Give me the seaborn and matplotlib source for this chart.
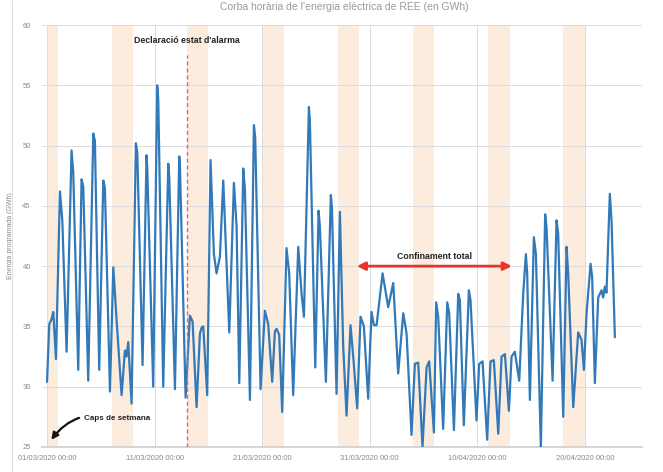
import pandas as pd
import matplotlib.pyplot as plt
import seaborn as sns

# dies des de l'01/03/2020 00:00 i energia programada (GWh), llegits del gràfic
days = [0.00, 0.21, 0.42, 0.58, 0.83, 1.20, 1.42, 1.82, 2.28, 2.44,
        2.90, 3.21, 3.37, 3.83, 4.30, 4.45, 4.85, 5.23, 5.38, 5.85,
        6.16, 6.47, 6.93, 7.24, 7.39, 7.55, 7.86, 8.26, 8.39, 8.88,
        9.25, 9.32, 9.87, 10.24, 10.34, 10.80, 11.27, 11.36, 11.89, 12.29,
        12.35, 12.88, 13.28, 13.53, 13.90, 14.21, 14.37, 14.52, 14.89, 15.20,
        15.51, 15.76, 16.07, 16.38, 16.94, 17.37, 17.62, 17.87, 18.24, 18.39,
        18.86, 19.23, 19.35, 19.85, 20.25, 20.56, 20.93, 21.18, 21.34, 21.58,
        21.86, 22.26, 22.51, 22.88, 23.35, 23.66, 23.88, 24.34, 24.43, 24.93,
        25.24, 25.36, 25.92, 26.38, 26.48, 26.91, 27.22, 27.53, 27.84, 28.21,
        28.46, 28.83, 29.14, 29.45, 29.85, 30.16, 30.38, 30.63, 31.19, 31.71,
        32.18, 32.64, 33.11, 33.42, 33.88, 34.19, 34.50, 34.90, 35.28, 35.52,
        35.96, 36.17, 36.36, 36.82, 37.20, 37.38, 37.82, 38.22, 38.37, 38.74,
        39.21, 39.36, 39.92, 40.17, 40.48, 40.91, 41.22, 41.53, 41.94, 42.25,
        42.56, 42.93, 43.18, 43.48, 43.89, 44.26, 44.51, 44.63, 44.88, 45.25,
        45.44, 45.90, 46.30, 46.43, 46.99, 47.36, 47.51, 47.98, 48.29, 48.44,
        48.91, 49.37, 49.68, 49.90, 50.15, 50.52, 50.67, 50.92, 51.23, 51.54,
        51.69, 51.85, 52.00, 52.31, 52.47, 52.78]
energy = [30.4, 35.2, 35.6, 36.2, 32.3, 46.2, 43.8, 32.9, 49.6, 47.7,
          31.4, 47.2, 46.6, 30.5, 51.0, 50.4, 31.4, 47.1, 46.5, 29.6,
          39.9, 35.5, 29.3, 33.0, 32.5, 33.7, 28.6, 50.2, 49.4, 31.8,
          49.2, 48.0, 30.0, 55.0, 53.8, 30.0, 48.5, 47.4, 29.8, 49.1,
          48.5, 29.1, 35.9, 35.4, 28.3, 34.4, 34.9, 35.0, 29.3, 48.8,
          41.0, 39.4, 40.8, 47.1, 34.5, 46.9, 43.3, 30.3, 48.1, 46.4,
          28.9, 51.7, 50.7, 29.8, 36.3, 35.2, 30.4, 34.6, 34.8, 34.3,
          27.9, 41.5, 39.4, 29.3, 41.6, 37.7, 35.8, 53.2, 52.1, 31.6,
          44.6, 43.3, 30.4, 45.9, 44.9, 29.4, 44.5, 33.3, 27.6, 35.1,
          32.5, 28.2, 35.8, 35.0, 29.0, 36.2, 35.1, 35.1, 39.4, 36.6,
          38.6, 31.1, 36.1, 34.4, 26.0, 31.9, 32.0, 25.0, 31.6, 32.1,
          26.2, 37.0, 35.8, 26.5, 37.0, 36.1, 26.4, 37.7, 37.2, 26.8,
          38.0, 37.2, 27.2, 31.9, 32.1, 25.6, 32.1, 32.2, 26.1, 32.5,
          32.7, 28.0, 32.5, 32.9, 30.5, 37.7, 41.0, 39.4, 28.9, 42.4,
          41.0, 25.0, 44.3, 43.2, 30.5, 43.8, 42.7, 27.5, 41.6, 39.4,
          28.3, 34.5, 33.9, 31.4, 36.1, 40.2, 39.1, 30.3, 37.4, 38.0,
          37.4, 38.3, 37.8, 46.0, 43.8, 34.1]

# caps de setmana (dia d'inici i durada en dies)
weekend_start = [0, 6, 13, 20, 27, 34, 41, 48]
weekend_length = [1, 2, 2, 2, 2, 2, 2, 2]

tick_days = [0, 10, 20, 30, 40, 50]
tick_labels = ['01/03/2020 00:00', '11/03/2020 00:00', '21/03/2020 00:00',
               '31/03/2020 00:00', '10/04/2020 00:00', '20/04/2020 00:00']
y_ticks = [25, 30, 35, 40, 45, 50, 55, 60]

alarm_day = 13
lockdown_start, lockdown_end = 28.8, 43.2

sns.set_theme(style='white')
plt.rcParams['font.family'] = ['Liberation Sans Narrow', 'Liberation Sans', 'DejaVu Sans']

df = pd.DataFrame({'dia': days, 'energia': energy})

fig = plt.figure(figsize=(6.63, 4.72), dpi=100)
ax = fig.add_axes([0.0633, 0.053, 0.905, 0.894])

# bandes dels caps de setmana
for start, length in zip(weekend_start, weekend_length):
    ax.axvspan(start, start + length, color='#fce6d4', alpha=0.75, lw=0, zorder=0)

sns.lineplot(data=df, x='dia', y='energia', ax=ax, color='#3179b8', lw=1.6,
             zorder=3, solid_joinstyle='round')

# estat d'alarma
ax.plot([alarm_day, alarm_day], [25, 57.5], color='#f0606a', lw=1.0,
        ls=(0, (3, 2)), zorder=4)
ax.text(alarm_day, 58.7, "Declaració estat d'alarma", ha='center', va='center',
        fontsize=6.3, fontweight='bold', color='#222222')

# confinament total
ax.annotate('', xy=(lockdown_start, 40.0), xytext=(lockdown_end, 40.0),
            arrowprops=dict(arrowstyle='<|-|>', color='#e8322b', lw=2,
                            mutation_scale=12, shrinkA=0, shrinkB=0), zorder=5)
ax.text((lockdown_start + lockdown_end) / 2, 40.45, 'Confinament total',
        ha='center', va='bottom', fontsize=6.3, fontweight='bold', color='#222222')

# caps de setmana
ax.annotate('Caps de setmana', xy=(0.4, 25.6), xytext=(3.4, 27.4),
            fontsize=5.8, fontweight='bold', color='#222222', va='center',
            arrowprops=dict(arrowstyle='-|>', color='#111111', lw=1.6,
                            mutation_scale=10,
                            connectionstyle='arc3,rad=0.35', shrinkA=1, shrinkB=0))

ax.set_xlim(-0.47, 55.3)
ax.set_ylim(25, 60)
ax.set_xticks(tick_days)
ax.set_xticklabels(tick_labels)
ax.set_yticks(y_ticks)
ax.tick_params(axis='both', length=0, labelsize=5.5, labelcolor='#8a8a8a')
ax.tick_params(axis='x', pad=6)
ax.tick_params(axis='y', pad=8)
ax.grid(True, color='#dcdcdc', lw=0.7)
ax.set_axisbelow(True)
for side in ['top', 'right', 'left']:
    ax.spines[side].set_visible(False)
ax.spines['bottom'].set_color('#d0d0d0')
ax.set_xlabel('')
ax.set_ylabel('Energia programada (GWh)', fontsize=5, color='#8a8a8a', labelpad=6)

fig.text(0.52, 0.985, "Corba horària de l'energia elèctrica de REE (en GWh)",
         ha='center', va='center', fontsize=7.5, color='#9a9a9a')
fig.add_artist(plt.Line2D([0.018, 0.018], [0, 1], color='#e0e0e0', lw=0.8))

fig.savefig('out.png', dpi=100)
